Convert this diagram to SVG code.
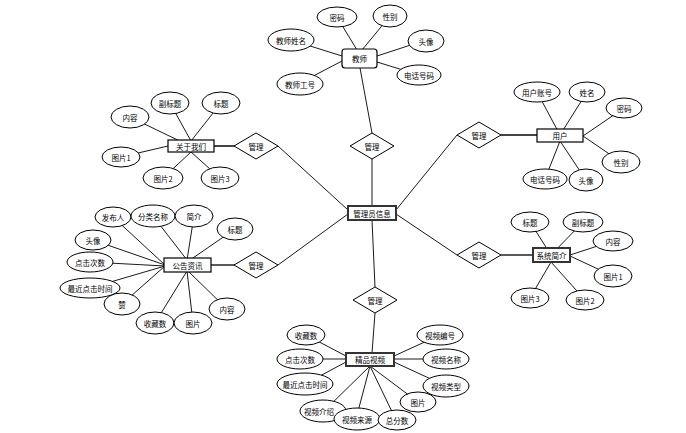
<svg xmlns="http://www.w3.org/2000/svg" width="686" height="433" viewBox="0 0 686 433">
<style>
.e{fill:#fff;stroke:#000;stroke-width:1}
.b{fill:#fff;stroke:#000;stroke-width:1.2}
.bb{fill:#fff;stroke:#333;stroke-width:2}
.d{fill:#fff;stroke:#000;stroke-width:1}
.c line{stroke:#000;stroke-width:0.9}
.t{font-family:"Noto Sans CJK SC","Noto Sans",sans-serif;font-size:7.5px;text-anchor:middle;dominant-baseline:central;fill:#000}
</style>
<rect width="686" height="433" fill="#fff"/>
<g id="connectors" class="c">
<line x1="372" y1="206" x2="372" y2="159"/>
<line x1="348" y1="210" x2="278" y2="146"/>
<line x1="348" y1="214" x2="278" y2="265"/>
<line x1="372" y1="220" x2="375" y2="287"/>
<line x1="396" y1="210" x2="457" y2="135"/>
<line x1="396" y1="214" x2="457" y2="255"/>
<line x1="372" y1="133" x2="360" y2="68"/>
<line x1="235" y1="146" x2="214" y2="146" style="stroke-width:2;stroke:#444"/>
<line x1="235" y1="265" x2="211" y2="265" style="stroke-width:1.3"/>
<line x1="375" y1="313" x2="372" y2="353"/>
<line x1="501" y1="135" x2="537" y2="135" style="stroke-width:2;stroke:#444"/>
<line x1="501" y1="255" x2="533" y2="255" style="stroke-width:1.3"/>
<line x1="337" y1="17" x2="357" y2="50"/>
<line x1="390" y1="16" x2="362" y2="50"/>
<line x1="291" y1="40" x2="342" y2="56"/>
<line x1="426" y1="40" x2="377" y2="56"/>
<line x1="300" y1="83" x2="342" y2="61"/>
<line x1="419" y1="75" x2="377" y2="62"/>
<line x1="130" y1="117" x2="190" y2="146"/>
<line x1="170" y1="103" x2="191" y2="141"/>
<line x1="221" y1="103" x2="191" y2="141"/>
<line x1="121" y1="157" x2="168" y2="146"/>
<line x1="163" y1="178" x2="191" y2="152"/>
<line x1="220" y1="178" x2="191" y2="152"/>
<line x1="113" y1="217" x2="165" y2="265"/>
<line x1="153" y1="216" x2="187" y2="260"/>
<line x1="194" y1="216" x2="187" y2="260"/>
<line x1="235" y1="229" x2="190" y2="260"/>
<line x1="93" y1="240" x2="165" y2="265"/>
<line x1="90" y1="262" x2="165" y2="266"/>
<line x1="90" y1="288" x2="165" y2="266"/>
<line x1="122" y1="304" x2="165" y2="266"/>
<line x1="155" y1="323" x2="187" y2="271"/>
<line x1="193" y1="323" x2="187" y2="271"/>
<line x1="227" y1="309" x2="188" y2="271"/>
<line x1="537" y1="92" x2="560" y2="135"/>
<line x1="587" y1="92" x2="560" y2="135"/>
<line x1="624" y1="108" x2="583" y2="136"/>
<line x1="621" y1="162" x2="583" y2="136"/>
<line x1="545" y1="179" x2="560" y2="141"/>
<line x1="586" y1="180" x2="560" y2="141"/>
<line x1="530" y1="222" x2="551" y2="255"/>
<line x1="583" y1="222" x2="551" y2="255"/>
<line x1="613" y1="241" x2="570" y2="255"/>
<line x1="613" y1="276" x2="570" y2="256"/>
<line x1="530" y1="298" x2="551" y2="262"/>
<line x1="585" y1="300" x2="551" y2="262"/>
<line x1="306" y1="335" x2="346" y2="356"/>
<line x1="300" y1="359" x2="346" y2="359"/>
<line x1="305" y1="384" x2="346" y2="362"/>
<line x1="440" y1="335" x2="394" y2="356"/>
<line x1="446" y1="359" x2="394" y2="359"/>
<line x1="446" y1="386" x2="394" y2="362"/>
<line x1="418" y1="402" x2="370" y2="366"/>
<line x1="324" y1="411" x2="370" y2="366"/>
<line x1="356" y1="419" x2="370" y2="366"/>
<line x1="396" y1="420" x2="370" y2="366"/>
</g>

<g id="center"><rect class="bb" x="348" y="206" width="48" height="14"/><text class="t" x="372" y="213">管理员信息</text></g>

<g id="rel-top"><polygon class="d" points="372,133 394,146 372,159 350,146"/><text class="t" x="372" y="146">管理</text></g>
<g id="rel-ul"><polygon class="d" points="256,133 278,146 256,159 234,146"/><text class="t" x="256" y="146">管理</text></g>
<g id="rel-ll"><polygon class="d" points="256,252 278,265 256,278 234,265"/><text class="t" x="256" y="265">管理</text></g>
<g id="rel-bottom"><polygon class="d" points="375,287 397,300 375,313 353,300"/><text class="t" x="375" y="300">管理</text></g>
<g id="rel-ur"><polygon class="d" points="479,122 501,135 479,148 457,135"/><text class="t" x="479" y="135">管理</text></g>
<g id="rel-lr"><polygon class="d" points="479,242 501,255 479,268 457,255"/><text class="t" x="479" y="255">管理</text></g>

<g id="teacher"><rect class="b" x="342" y="49" width="35" height="19" rx="3"/><text class="t" x="359.5" y="58.5">教师</text></g>
<g id="t-a1"><ellipse class="e" cx="337" cy="17" rx="20" ry="10"/><text class="t" x="337" y="17">密码</text></g>
<g id="t-a2"><ellipse class="e" cx="390" cy="16" rx="17" ry="11"/><text class="t" x="390" y="16">性别</text></g>
<g id="t-a3"><ellipse class="e" cx="291" cy="40" rx="23" ry="11"/><text class="t" x="291" y="40">教师姓名</text></g>
<g id="t-a4"><ellipse class="e" cx="426" cy="41" rx="18" ry="11"/><text class="t" x="426" y="41">头像</text></g>
<g id="t-a5"><ellipse class="e" cx="300" cy="84" rx="23" ry="11"/><text class="t" x="300" y="84">教师工号</text></g>
<g id="t-a6"><ellipse class="e" cx="419" cy="75" rx="22" ry="10"/><text class="t" x="419" y="75">电话号码</text></g>

<g id="about"><rect class="b" x="168" y="140" width="46" height="12"/><text class="t" x="191" y="146">关于我们</text></g>
<g id="ab-a1"><ellipse class="e" cx="130" cy="117" rx="19" ry="11"/><text class="t" x="130" y="117">内容</text></g>
<g id="ab-a2"><ellipse class="e" cx="170" cy="103" rx="19" ry="11"/><text class="t" x="170" y="103">副标题</text></g>
<g id="ab-a3"><ellipse class="e" cx="221" cy="103" rx="19" ry="11"/><text class="t" x="221" y="103">标题</text></g>
<g id="ab-a4"><ellipse class="e" cx="121" cy="157" rx="19" ry="10"/><text class="t" x="121" y="157">图片1</text></g>
<g id="ab-a5"><ellipse class="e" cx="163" cy="178" rx="20" ry="11"/><text class="t" x="163" y="178">图片2</text></g>
<g id="ab-a6"><ellipse class="e" cx="220" cy="178" rx="19" ry="11"/><text class="t" x="220" y="178">图片3</text></g>

<g id="notice"><rect class="b" x="164" y="258" width="47" height="14"/><text class="t" x="187.5" y="265">公告资讯</text></g>
<g id="n-a1"><ellipse class="e" cx="113" cy="217" rx="18" ry="10"/><text class="t" x="113" y="217">发布人</text></g>
<g id="n-a2"><ellipse class="e" cx="153" cy="216" rx="22" ry="11"/><text class="t" x="153" y="216">分类名称</text></g>
<g id="n-a3"><ellipse class="e" cx="194" cy="216" rx="19" ry="11"/><text class="t" x="194" y="216">简介</text></g>
<g id="n-a4"><ellipse class="e" cx="235" cy="229" rx="18" ry="11"/><text class="t" x="235" y="229">标题</text></g>
<g id="n-a5"><ellipse class="e" cx="93" cy="240" rx="18" ry="10"/><text class="t" x="93" y="240">头像</text></g>
<g id="n-a6"><ellipse class="e" cx="90" cy="262" rx="23" ry="10"/><text class="t" x="90" y="262">点击次数</text></g>
<g id="n-a7"><ellipse class="e" cx="90" cy="288" rx="30" ry="10"/><text class="t" x="90" y="288">最近点击时间</text></g>
<g id="n-a8"><ellipse class="e" cx="122" cy="304" rx="18" ry="11"/><text class="t" x="122" y="304">赞</text></g>
<g id="n-a9"><ellipse class="e" cx="155" cy="323" rx="19" ry="11"/><text class="t" x="155" y="323">收藏数</text></g>
<g id="n-a10"><ellipse class="e" cx="193" cy="323" rx="19" ry="11"/><text class="t" x="193" y="323">图片</text></g>
<g id="n-a11"><ellipse class="e" cx="227" cy="309" rx="18" ry="11"/><text class="t" x="227" y="309">内容</text></g>

<g id="user"><rect class="b" x="537" y="129" width="46" height="13"/><text class="t" x="560" y="135.5">用户</text></g>
<g id="u-a1"><ellipse class="e" cx="537" cy="92" rx="23" ry="10"/><text class="t" x="537" y="92">用户账号</text></g>
<g id="u-a2"><ellipse class="e" cx="587" cy="92" rx="18" ry="10"/><text class="t" x="587" y="92">姓名</text></g>
<g id="u-a3"><ellipse class="e" cx="624" cy="108" rx="18" ry="10"/><text class="t" x="624" y="108">密码</text></g>
<g id="u-a4"><ellipse class="e" cx="621" cy="162" rx="19" ry="11"/><text class="t" x="621" y="162">性别</text></g>
<g id="u-a5"><ellipse class="e" cx="545" cy="179" rx="22" ry="10"/><text class="t" x="545" y="179">电话号码</text></g>
<g id="u-a6"><ellipse class="e" cx="586" cy="180" rx="17" ry="11"/><text class="t" x="586" y="180">头像</text></g>

<g id="system"><rect class="bb" x="533" y="248" width="37" height="14"/><text class="t" x="551.5" y="255">系统简介</text></g>
<g id="s-a1"><ellipse class="e" cx="530" cy="222" rx="19" ry="10"/><text class="t" x="530" y="222">标题</text></g>
<g id="s-a2"><ellipse class="e" cx="583" cy="222" rx="20" ry="10"/><text class="t" x="583" y="222">副标题</text></g>
<g id="s-a3"><ellipse class="e" cx="613" cy="241" rx="20" ry="10"/><text class="t" x="613" y="241">内容</text></g>
<g id="s-a4"><ellipse class="e" cx="613" cy="276" rx="19" ry="11"/><text class="t" x="613" y="276">图片1</text></g>
<g id="s-a5"><ellipse class="e" cx="530" cy="298" rx="19" ry="10"/><text class="t" x="530" y="298">图片3</text></g>
<g id="s-a6"><ellipse class="e" cx="585" cy="300" rx="19" ry="10"/><text class="t" x="585" y="300">图片2</text></g>

<g id="video"><rect class="bb" x="346" y="353" width="48" height="13"/><text class="t" x="370" y="359.5">精品视频</text></g>
<g id="v-a1"><ellipse class="e" cx="306" cy="335" rx="19" ry="10"/><text class="t" x="306" y="335">收藏数</text></g>
<g id="v-a2"><ellipse class="e" cx="300" cy="359" rx="23" ry="10"/><text class="t" x="300" y="359">点击次数</text></g>
<g id="v-a3"><ellipse class="e" cx="305" cy="384" rx="28" ry="11"/><text class="t" x="305" y="384">最近点击时间</text></g>
<g id="v-a4"><ellipse class="e" cx="440" cy="335" rx="23" ry="10"/><text class="t" x="440" y="335">视频编号</text></g>
<g id="v-a5"><ellipse class="e" cx="446" cy="359" rx="23" ry="10"/><text class="t" x="446" y="359">视频名称</text></g>
<g id="v-a6"><ellipse class="e" cx="446" cy="386" rx="23" ry="11"/><text class="t" x="446" y="386">视频类型</text></g>
<g id="v-a7"><ellipse class="e" cx="418" cy="402" rx="18" ry="10"/><text class="t" x="418" y="402">图片</text></g>
<g id="v-a8"><ellipse class="e" cx="323" cy="411" rx="23" ry="11"/><text class="t" x="319" y="411">视频介绍</text></g>
<g id="v-a9"><ellipse class="e" cx="357" cy="419" rx="23" ry="11"/><text class="t" x="357" y="419">视频来源</text></g>
<g id="v-a10"><ellipse class="e" cx="397" cy="420" rx="19" ry="10"/><text class="t" x="397" y="420">总分数</text></g>
</svg>
